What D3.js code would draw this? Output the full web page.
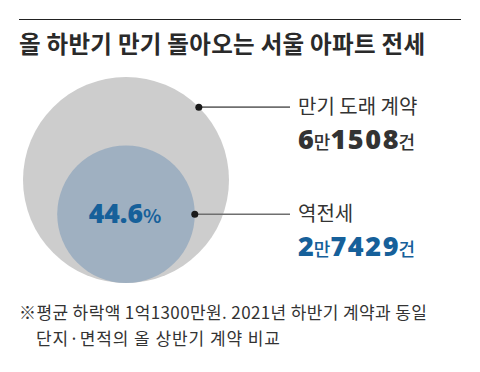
<!DOCTYPE html>
<html>
<head>
<meta charset="utf-8">
<script src="https://cdn.jsdelivr.net/npm/d3@7"></script>
<style>
  body { margin: 0; background: #fff; }
  svg { display: block; font-family: "Noto Sans CJK KR", "Noto Sans", sans-serif; }
</style>
</head>
<body>
<svg id="chart" width="480" height="372"></svg>
<script>
// data
const title = '올 하반기 만기 돌아오는 서울 아파트 전세';
const categories = ['만기 도래 계약', '역전세'];
const counts = [61508, 27429];
const shareLabel = '44.6';
const notes = [
  '※평균 하락액 1억1300만원. 2021년 하반기 계약과 동일',
  '단지·면적의 올 상반기 계약 비교'
];

const fills = ['#cdcdcd', '#9fb0c1'];
const textColors = ['#333333', '#16609a'];

const svg = d3.select('#chart');

// top rule + title
svg.append('line')
  .attr('x1', 19).attr('x2', 461)
  .attr('y1', 19.5).attr('y2', 19.5)
  .style('stroke', '#222')
  .style('stroke-width', 1);

svg.append('text')
  .attr('x', 19)
  .attr('y', 53)
  .attr('textLength', 406)
  .style('font-size', '23.5px')
  .style('font-weight', 700)
  .style('fill', '#2a2a2a')
  .text(title);

// circles, area proportional to count, bottom-aligned
const r = d3.scaleSqrt().domain([0, d3.max(counts)]).range([0, 103]);
const cx = 126;
const baseY = 283;

const circles = categories.map((c, i) => ({
  name: c,
  value: counts[i],
  r: r(counts[i]),
  cy: baseY - r(counts[i])
}));

svg.selectAll('circle.bubble')
  .data(circles)
  .enter()
  .append('circle')
  .attr('class', 'bubble')
  .attr('cx', cx)
  .attr('cy', d => d.cy)
  .attr('r', d => d.r)
  .style('fill', (d, i) => fills[i]);

// leader lines and dots
const anchors = circles.map((d, i) => {
  const a = i === 0 ? -Math.PI / 4 : 0;
  return { x: cx + d.r * Math.cos(a), y: d.cy + d.r * Math.sin(a) };
});
const lineEnd = 290;

svg.selectAll('line.leader')
  .data(anchors)
  .enter()
  .append('line')
  .attr('class', 'leader')
  .attr('x1', d => d.x).attr('x2', lineEnd)
  .attr('y1', d => d.y).attr('y2', d => d.y)
  .style('stroke', '#6f6f6f')
  .style('stroke-width', 1.6);

svg.selectAll('circle.dot')
  .data(anchors)
  .enter()
  .append('circle')
  .attr('class', 'dot')
  .attr('cx', d => d.x)
  .attr('cy', d => d.y)
  .attr('r', 3.5)
  .style('fill', '#1a1a1a');

// share label in the inner circle
const share = svg.append('text')
  .attr('x', 125)
  .attr('y', circles[1].cy + 9)
  .attr('text-anchor', 'middle')
  .style('fill', '#16609a')
  .style('font-weight', 800);
share.append('tspan')
  .style('font-size', '26.5px')
  .style('font-family', '"Open Sans", sans-serif')
  .text(shareLabel);
share.append('tspan').style('font-size', '19px').style('font-weight', 700).text('%');

// category labels and counts
function splitMan(v) {
  return [String(Math.floor(v / 10000)), '만', String(v % 10000), '건'];
}

const labelX = 298;
const digitGap = 1.6;
circles.forEach((d, i) => {
  const y0 = anchors[i].y;
  svg.append('text')
    .attr('x', labelX)
    .attr('y', y0 + 7)
    .style('font-size', '20px')
    .style('fill', '#333')
    .text(d.name);

  const t = svg.append('text')
    .attr('x', labelX)
    .attr('y', y0 + 42)
    .style('fill', textColors[i]);
  splitMan(d.value).forEach((s, k) => {
    const num = k % 2 === 0;
    t.append('tspan')
      .attr('dx', num ? 0 : -digitGap)
      .style('font-size', num ? '27px' : '18px')
      .style('font-family', num ? '"Open Sans", sans-serif' : null)
      .style('font-weight', num ? 800 : 500)
      .style('letter-spacing', num ? digitGap + 'px' : '0px')
      .text(s);
  });
});

// footnote
svg.selectAll('text.note')
  .data(notes)
  .enter()
  .append('text')
  .attr('class', 'note')
  .attr('x', (d, i) => i === 0 ? 19 : 36)
  .attr('y', (d, i) => 319 + i * 26)
  .attr('textLength', (d, i) => i === 0 ? 408 : 244)
  .style('font-size', '17px')
  .style('fill', '#333')
  .text(d => d);
</script>
</body>
</html>
